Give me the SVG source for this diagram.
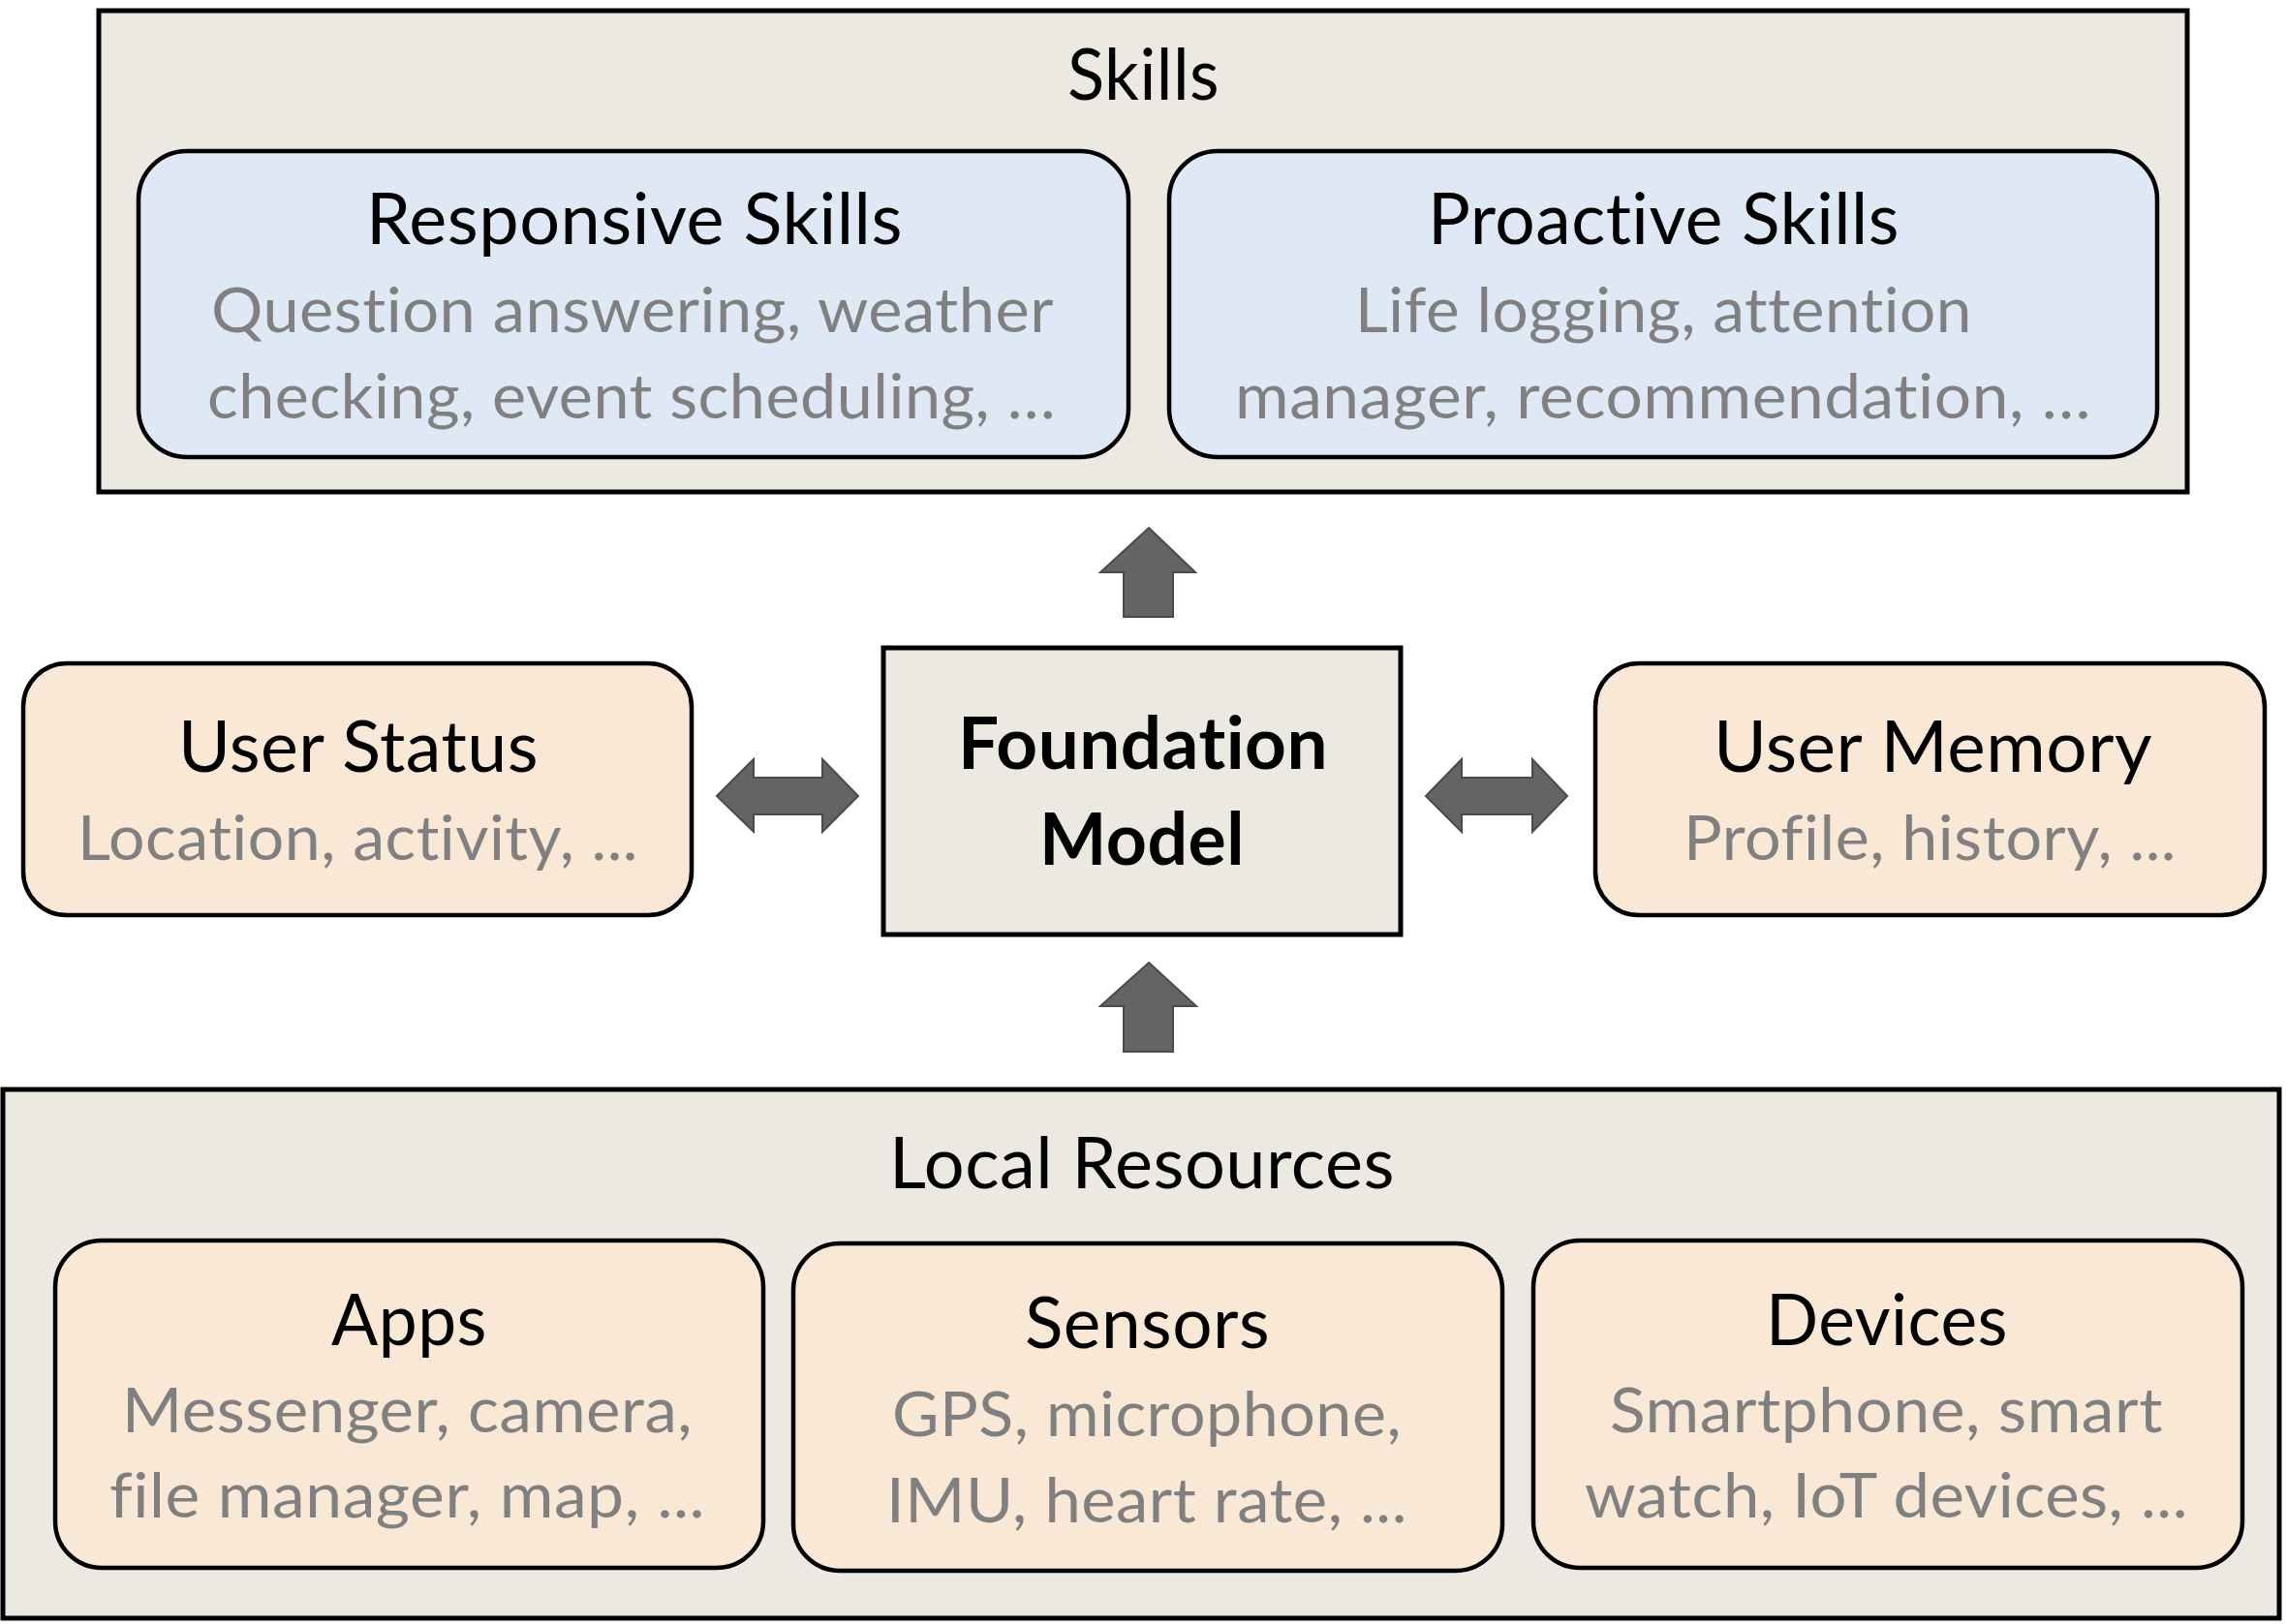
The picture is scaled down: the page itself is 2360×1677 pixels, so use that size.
<svg xmlns="http://www.w3.org/2000/svg" width="2360" height="1677" viewBox="0 0 2360 1677">
  <style>
    .panel { fill: #ECE9E3; stroke: #000; stroke-width: 5; }
    .skill { fill: #DEE9F5; stroke: #000; stroke-width: 4.5; }
    .ctx { fill: #FAE8D6; stroke: #000; stroke-width: 4.5; }
    text { font-family: Lato, "Open Sans", sans-serif; font-variant-ligatures: none; font-feature-settings: "liga" 0, "clig" 0, "calt" 0, "dlig" 0; letter-spacing: 0.5px; }
    .title { font-size: 74px; fill: #000; }
    .bold { font-size: 74px; font-weight: bold; fill: #000; }
    .desc { font-size: 64px; fill: #808080; }
    .arrow { fill: #646464; stroke: #4A4A4A; stroke-width: 2; stroke-linejoin: miter; }
  </style>
  <rect width="2360" height="1677" fill="#FFFFFF"/>

  <!-- Skills layer -->
  <g id="skills">
    <rect class="panel" x="102" y="11" width="2156" height="497"/>
    <text class="title" x="1102" y="103" textLength="157" lengthAdjust="spacingAndGlyphs">Skills</text>
  </g>
  <g id="responsive-skills">
    <rect class="skill" x="143" y="156" width="1022" height="316" rx="50" ry="50"/>
    <text class="title" x="378" y="252" textLength="554" lengthAdjust="spacingAndGlyphs">Responsive Skills</text>
    <text class="desc" x="218" y="343" textLength="870" lengthAdjust="spacingAndGlyphs">Question answering, weather</text>
    <text class="desc" x="214" y="432" textLength="876" lengthAdjust="spacingAndGlyphs">checking, event scheduling, …</text>
  </g>
  <g id="proactive-skills">
    <rect class="skill" x="1207" y="156" width="1020" height="316" rx="50" ry="50"/>
    <text class="title" x="1474" y="252" textLength="487" lengthAdjust="spacingAndGlyphs">Proactive Skills</text>
    <text class="desc" x="1399" y="343" textLength="637" lengthAdjust="spacingAndGlyphs">Life logging, attention</text>
    <text class="desc" x="1275" y="432" textLength="884" lengthAdjust="spacingAndGlyphs">manager, recommendation, …</text>
  </g>

  <!-- Middle row -->
  <g id="user-status">
    <rect class="ctx" x="24" y="685" width="690" height="260" rx="45" ry="45"/>
    <text class="title" x="184" y="797" textLength="372" lengthAdjust="spacingAndGlyphs">User Status</text>
    <text class="desc" x="80" y="888" textLength="579" lengthAdjust="spacingAndGlyphs">Location, activity, ...</text>
  </g>
  <g id="foundation-model">
    <rect class="panel" x="912" y="669" width="534" height="296"/>
    <text class="bold" x="989" y="794" textLength="382" lengthAdjust="spacingAndGlyphs">Foundation</text>
    <text class="bold" x="1073" y="893" textLength="212" lengthAdjust="spacingAndGlyphs">Model</text>
  </g>
  <g id="user-memory">
    <rect class="ctx" x="1647" y="685" width="691" height="260" rx="45" ry="45"/>
    <text class="title" x="1769" y="797" textLength="453" lengthAdjust="spacingAndGlyphs">User Memory</text>
    <text class="desc" x="1738" y="888" textLength="509" lengthAdjust="spacingAndGlyphs">Profile, history, ...</text>
  </g>

  <!-- Local resources layer -->
  <g id="local-resources">
    <rect class="panel" x="3" y="1125" width="2350" height="546"/>
    <text class="title" x="918" y="1227" textLength="522" lengthAdjust="spacingAndGlyphs">Local Resources</text>
  </g>
  <g id="apps">
    <rect class="ctx" x="57" y="1281" width="731" height="338" rx="48" ry="48"/>
    <text class="title" x="342" y="1389" textLength="161" lengthAdjust="spacingAndGlyphs">Apps</text>
    <text class="desc" x="126" y="1479" textLength="589" lengthAdjust="spacingAndGlyphs">Messenger, camera,</text>
    <text class="desc" x="113" y="1567" textLength="615" lengthAdjust="spacingAndGlyphs">file manager, map, ...</text>
  </g>
  <g id="sensors">
    <rect class="ctx" x="819" y="1284" width="732" height="338" rx="48" ry="48"/>
    <text class="title" x="1058" y="1392" textLength="253" lengthAdjust="spacingAndGlyphs">Sensors</text>
    <text class="desc" x="921" y="1483" textLength="526" lengthAdjust="spacingAndGlyphs">GPS, microphone,</text>
    <text class="desc" x="915" y="1572" textLength="538" lengthAdjust="spacingAndGlyphs">IMU, heart rate, ...</text>
  </g>
  <g id="devices">
    <rect class="ctx" x="1583" y="1281" width="732" height="338" rx="48" ry="48"/>
    <text class="title" x="1823" y="1389" textLength="250" lengthAdjust="spacingAndGlyphs">Devices</text>
    <text class="desc" x="1662" y="1479" textLength="571" lengthAdjust="spacingAndGlyphs">Smartphone, smart</text>
    <text class="desc" x="1636" y="1567" textLength="623" lengthAdjust="spacingAndGlyphs">watch, IoT devices, ...</text>
  </g>

  <!-- Block arrows between layers -->
  <g id="connectors">
    <polygon class="arrow" points="1186,545 1234,591 1211,591 1211,637 1160,637 1160,591 1136,591"/>
    <polygon class="arrow" points="1186,994 1235,1039 1211,1039 1211,1086 1160,1086 1160,1039 1136,1039"/>
    <polygon class="arrow" points="740,822 778,784 778,803 849,803 849,784 886,822 849,859 849,841 778,841 778,859"/>
    <polygon class="arrow" points="1472,822 1509,784 1509,803 1582,803 1582,784 1618,822 1582,859 1582,841 1509,841 1509,859"/>
  </g>
</svg>
